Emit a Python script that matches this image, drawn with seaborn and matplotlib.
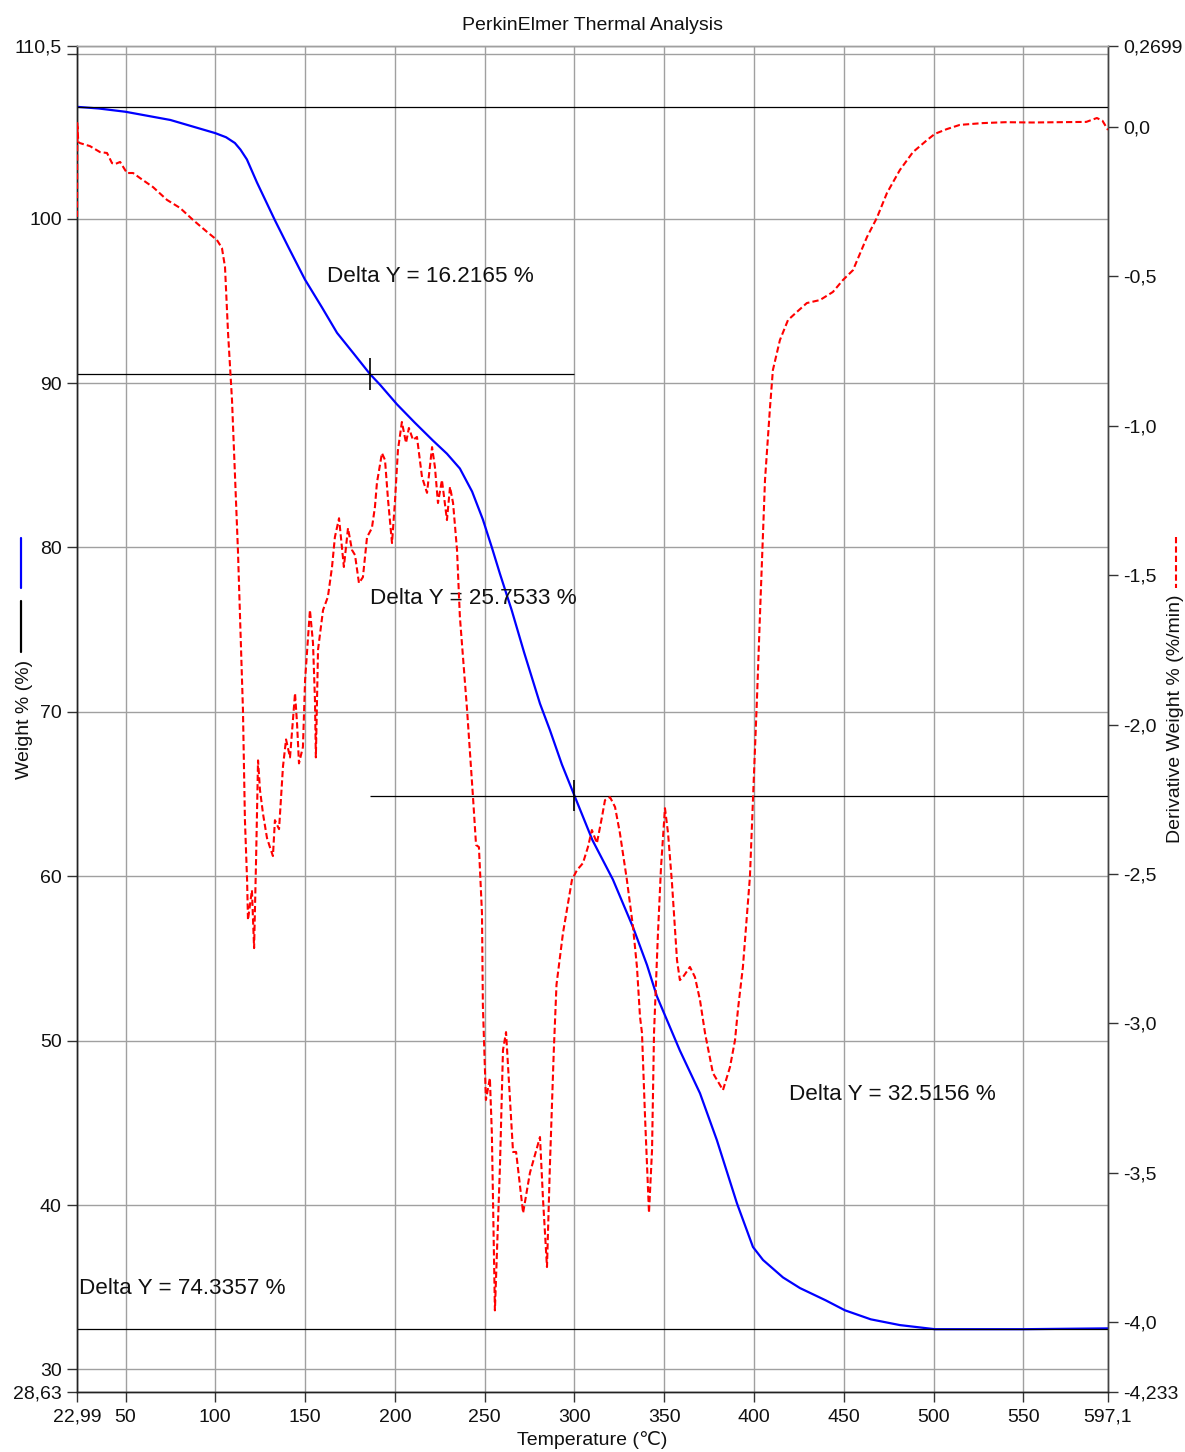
import numpy as np
import pandas as pd
import matplotlib
matplotlib.use("Agg")
import matplotlib.pyplot as plt
import seaborn as sns
from matplotlib.lines import Line2D

# ---------------- data ----------------
temp_tga = [22.99, 35, 50, 75, 100, 106, 110.9, 114, 117.6, 123.2, 133.2, 141, 149.9,
            159.4, 167.8, 177, 186.1, 191.7, 201.2, 211, 221.2, 229, 236.2, 243,
            249.0, 254, 258.5, 265, 272, 280.8, 286.3, 293, 300, 310, 321.4, 332.6,
            340.4, 345.9, 358.7, 369.9, 379.3, 390.5, 399.4, 405, 416.1, 425.6,
            440, 450.6, 465, 481.2, 500.7, 550, 597.1]
weight_pct = [106.8, 106.7, 106.5, 106.0, 105.2, 104.95, 104.6, 104.2, 103.6, 102.2, 99.9,
              98.2, 96.3, 94.6, 93.05, 91.8, 90.55, 89.9, 88.7, 87.6, 86.5, 85.7,
              84.8, 83.4, 81.7, 80.0, 78.4, 76.2, 73.6, 70.5, 68.9, 66.8, 64.9, 62.2, 59.8,
              56.9, 54.6, 52.7, 49.4, 46.8, 43.95, 40.1, 37.45, 36.66, 35.6, 34.95,
              34.2, 33.6, 33.05, 32.7, 32.45, 32.45, 32.5]

temp_dtg = [22.99, 23.15, 23.7, 24.66, 30.2, 35.8, 39.7, 42.5, 44.2, 47.0, 50.8, 54.2, 58.1,
            65.3, 73.1, 80.4, 87.6, 95.4, 100.9, 103.7, 105.4, 107.1, 109.3, 112.6, 115.4,
            116.5, 117.7, 118.2, 119.3, 120.4, 121.6, 122.7, 123.8, 124.9, 126.6, 128.8,
            130.4, 132.1, 133.2, 135.5, 137.7, 139.4, 141.6, 144.4, 145.5, 146.6, 148.8,
            150.0, 152.7, 154.4, 155.5, 156.0, 157.2, 160.0, 162.7, 165.0, 166.6, 168.9,
            171.6, 173.9, 176.1, 177.8, 180.0, 182.2, 184.5, 187.2, 188.9, 190.0, 192.8,
            194.5, 196.2, 198.4, 200.1, 201.7, 203.9, 206.2, 207.8, 210.1, 212.3, 215.1,
            217.9, 220.7, 222.3, 224.0, 226.2, 229.0, 230.7, 232.4, 234.6, 236.2, 239.0,
            240.2, 243.5, 245.2, 246.8, 248.5, 249.0, 250.7, 252.9, 254.0, 255.7, 258.5,
            260.2, 261.9, 264.1, 265.8, 267.5, 271.4, 275.2, 280.8, 282.5, 284.7, 286.3,
            288.5, 290.0, 293.6, 298.6, 301.4, 304.7, 307.5, 309.7, 312.5, 315.3, 317.0,
            319.8, 322.6, 325.3, 329.2, 332.6, 334.8, 336.5, 337.6, 339.3, 341.5, 343.2,
            344.3, 346.5, 348.2, 350.4, 352.1, 354.3, 357.1, 358.7, 360.4, 364.3, 367.1,
            369.9, 372.7, 373.8, 377.1, 382.7, 386.6, 389.4, 391.1, 393.8, 397.7, 399.4,
            401.6, 403.5, 406.1, 408.9, 410.5, 414.4, 418.9, 423.8, 429.4, 436.7, 443.9,
            449.5, 455.1, 462.9, 468.4, 474.0, 481.2, 488.5, 496.3, 500.7, 507.4, 514.6,
            527.4, 540.0, 555.0, 570.0, 585.0, 590.9, 594.0, 597.1]
deriv_weight = [-0.302, 0.012, -0.051, -0.055, -0.065, -0.085, -0.088, -0.122, -0.125, -0.118,
                -0.155, -0.155, -0.172, -0.202, -0.245, -0.272, -0.312, -0.352, -0.379, -0.406,
                -0.469, -0.69, -0.914, -1.416, -1.951, -2.32, -2.52, -2.654, -2.604, -2.554,
                -2.748, -2.454, -2.12, -2.22, -2.30, -2.38, -2.41, -2.44, -2.32, -2.35, -2.14,
                -2.05, -2.11, -1.895, -1.995, -2.13, -2.075, -1.851, -1.617, -1.727, -1.918,
                -2.11, -1.75, -1.617, -1.573, -1.473, -1.373, -1.31, -1.473, -1.343, -1.416,
                -1.433, -1.527, -1.507, -1.373, -1.343, -1.272, -1.192, -1.092, -1.115, -1.249,
                -1.393, -1.249, -1.082, -0.988, -1.058, -1.008, -1.048, -1.038, -1.172, -1.225,
                -1.072, -1.139, -1.259, -1.182, -1.316, -1.205, -1.259, -1.416, -1.64, -1.861,
                -1.951, -2.243, -2.403, -2.41, -2.631, -2.94, -3.256, -3.183, -3.367, -3.96,
                -3.48, -3.089, -3.029, -3.256, -3.43, -3.43, -3.634, -3.50, -3.38, -3.59,
                -3.815, -3.48, -3.09, -2.87, -2.698, -2.52, -2.487, -2.464, -2.41, -2.353,
                -2.397, -2.31, -2.253, -2.243, -2.276, -2.363, -2.52, -2.677, -2.811, -2.978,
                -3.032, -3.313, -3.634, -3.423, -3.032, -2.698, -2.477, -2.28, -2.363, -2.53,
                -2.788, -2.855, -2.845, -2.811, -2.845, -2.922, -3.032, -3.066, -3.166, -3.223,
                -3.146, -3.056, -2.95, -2.811, -2.51, -2.253, -1.918, -1.6, -1.182, -0.938,
                -0.814, -0.714, -0.647, -0.62, -0.59, -0.58, -0.553, -0.513, -0.48, -0.369,
                -0.305, -0.222, -0.145, -0.085, -0.045, -0.024, -0.008, 0.006, 0.012, 0.015,
                0.014, 0.015, 0.016, 0.029, 0.02, -0.011]

x_ticks = [22.99, 50, 100, 150, 200, 250, 300, 350, 400, 450, 500, 550, 597.1]
x_tick_labels = ["22,99", "50", "100", "150", "200", "250", "300", "350", "400",
                 "450", "500", "550", "597,1"]
left_ticks = [28.63, 30, 40, 50, 60, 70, 80, 90, 100, 110, 110.5]
left_tick_labels = ["28,63", "30", "40", "50", "60", "70", "80", "90", "100", "", "110,5"]
right_ticks = [-4.233, -4.0, -3.5, -3.0, -2.5, -2.0, -1.5, -1.0, -0.5, 0.0, 0.2699]
right_tick_labels = ["-4,233", "-4,0", "-3,5", "-3,0", "-2,5", "-2,0", "-1,5", "-1,0",
                     "-0,5", "0,0", "0,2699"]

delta_levels = [106.8, 90.55, 64.9, 32.45]
delta_line_start = [22.99, 22.99, 186.1, 22.99]
delta_line_end = [597.1, 300, 597.1, 597.1]
delta_marker_x = [22.99, 186.1, 300]
delta_marker_y = [106.8, 90.55, 64.9]
delta_labels = ["Delta Y = 16.2165 %", "Delta Y = 25.7533 %",
                "Delta Y = 32.5156 %", "Delta Y = 74.3357 %"]
delta_label_x = [162.2, 186.1, 419.4, 24.1]
delta_label_y = [96.45, 76.92, 46.7, 34.95]

title_text = "PerkinElmer Thermal Analysis"
x_label = "Temperature (\u2103)"
left_label = "Weight % (%)"
right_label = "Derivative Weight % (%/min)"

# ---------------- style ----------------
sns.set_theme(style="white")
plt.rcParams['font.family'] = ['Liberation Sans', 'DejaVu Sans']
plt.rcParams['axes.unicode_minus'] = False

W, H = 1185, 1452
fig = plt.figure(figsize=(W / 100, H / 100), dpi=100)
ax = fig.add_axes([77 / W, 1 - 1392 / H, (1108 - 77) / W, (1392 - 46) / H])
ax2 = ax.twinx()

tga_df = pd.DataFrame({"Temperature": temp_tga, "Weight": weight_pct})
dtg_df = pd.DataFrame({"Temperature": temp_dtg, "Deriv": deriv_weight})

sns.lineplot(data=tga_df, x="Temperature", y="Weight", ax=ax, color="#0000ff",
             linewidth=1.6, sort=False, estimator=None, zorder=4)
sns.lineplot(data=dtg_df, x="Temperature", y="Deriv", ax=ax2, color="#ff0000",
             linewidth=1.5, linestyle=(0, (3, 1.5)), sort=False, estimator=None, zorder=3)

ax.set_xlim(22.99, 597.1)
ax.set_ylim(28.63, 110.5)
ax2.set_ylim(-4.233, 0.2699)

ax.set_xticks(x_ticks)
ax.set_xticklabels(x_tick_labels)
ax.set_yticks(left_ticks)
ax.set_yticklabels(left_tick_labels)
ax2.set_yticks(right_ticks)
ax2.set_yticklabels(right_tick_labels)

ax.grid(True, color="#a0a0a0", linewidth=1.0, zorder=0)
ax.set_axisbelow(True)
ax2.grid(False)

for a in (ax, ax2):
    a.tick_params(axis="both", direction="out", length=7, width=1.0, color="#333333",
                  labelsize=14, labelcolor="#111111", pad=4)
ax.tick_params(axis="x", bottom=True, pad=5)
ax.tick_params(axis="y", left=True)
ax2.tick_params(axis="y", right=True)

for a in (ax, ax2):
    a.spines["left"].set_color("#222222")
    a.spines["bottom"].set_color("#222222")
    a.spines["right"].set_color("#444444")
    a.spines["top"].set_color("#a0a0a0")
    for s in a.spines.values():
        s.set_linewidth(1.0)

# delta annotation lines
ax.hlines(delta_levels, delta_line_start, delta_line_end, colors="black",
          linewidth=0.9, zorder=5)
ax.vlines(delta_marker_x, [y - 0.95 for y in delta_marker_y],
          [y + 0.95 for y in delta_marker_y], colors="black", linewidth=1.2, zorder=6)
for tx, ty, tl in zip(delta_label_x, delta_label_y, delta_labels):
    ax.text(tx, ty, tl, ha="left", va="center", fontsize=16.2, color="#111111", zorder=7)

ax.set_xlabel(x_label, fontsize=14, color="#111111")
ax.xaxis.set_label_coords(0.5, -0.029)
ax.set_ylabel(left_label, fontsize=14, color="#111111")
ax.yaxis.set_label_coords(-0.043, 0.5)
ax2.set_ylabel(right_label, fontsize=14, color="#111111")
ax2.yaxis.set_label_coords(1.057, 0.5)

fig.text(0.5, 1 - 25 / H, title_text, ha="center", va="center", fontsize=14,
         color="#111111")

# axis-label legend keys
fig.add_artist(Line2D([21 / W, 21 / W], [1 - 538 / H, 1 - 588 / H], color="#0000ff",
                      linewidth=1.6))
fig.add_artist(Line2D([21 / W, 21 / W], [1 - 601 / H, 1 - 652 / H], color="black",
                      linewidth=1.6))
fig.add_artist(Line2D([1176 / W, 1176 / W], [1 - 537 / H, 1 - 588 / H], color="#ff0000",
                      linewidth=1.5, linestyle=(0, (3, 1.5))))

fig.savefig("out.png", dpi=100)
